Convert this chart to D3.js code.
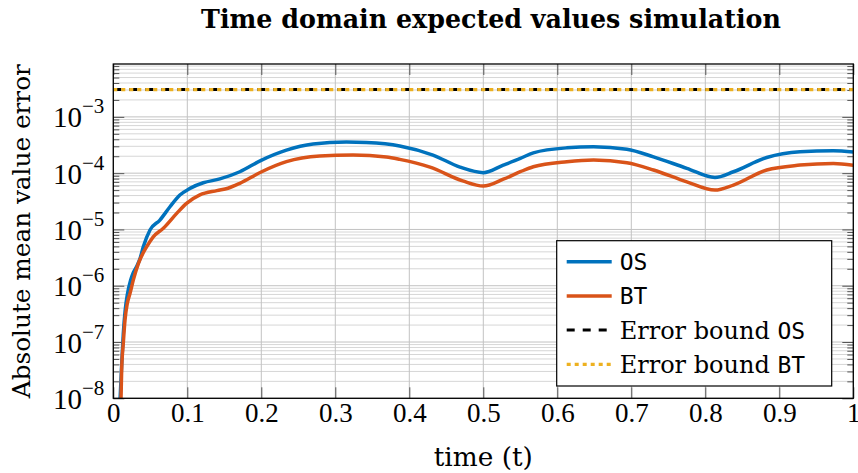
<!DOCTYPE html>
<html>
<head>
<meta charset="utf-8">
<script src="https://cdn.jsdelivr.net/npm/d3@7"></script>
<style>
  body { margin: 0; background: #fff; }
  svg { display: block; }
</style>
</head>
<body>
<div id="chart"></div>
<script>
const xTicks = [0, 0.1, 0.2, 0.3, 0.4, 0.5, 0.6, 0.7, 0.8, 0.9, 1]
const yDecades = [-8, -7, -6, -5, -4, -3]
const yDomain = [1e-8, 8.7e-3]

const osT = [0.008, 0.0095, 0.0115, 0.0135, 0.016, 0.019, 0.0235, 0.027, 0.0316, 0.036, 0.0405, 0.0496, 0.063, 0.0766, 0.09, 0.1036, 0.1216, 0.144, 0.171, 0.2005, 0.234, 0.27, 0.315, 0.342, 0.387, 0.432, 0.4685, 0.5, 0.527, 0.55, 0.5676, 0.613, 0.649, 0.694, 0.73, 0.775, 0.813, 0.838, 0.883, 0.928, 0.973, 1.0]
const osErr = [5e-9, 1.2e-8, 4.5e-8, 1.4e-7, 3.6e-7, 7e-7, 1.26e-6, 1.7e-6, 2.2e-6, 3.0e-6, 4.9e-6, 9.8e-6, 1.47e-5, 2.53e-5, 4.08e-5, 5.37e-5, 6.75e-5, 7.9e-5, 1.06e-4, 1.71e-4, 2.57e-4, 3.29e-4, 3.57e-4, 3.5e-4, 3.05e-4, 2.1e-4, 1.28e-4, 1.02e-4, 1.39e-4, 1.83e-4, 2.3e-4, 2.82e-4, 2.94e-4, 2.65e-4, 1.95e-4, 1.22e-4, 8.4e-5, 1.06e-4, 1.9e-4, 2.4e-4, 2.5e-4, 2.37e-4]

const btT = [0.0095, 0.0105, 0.0113, 0.0135, 0.0158, 0.019, 0.0226, 0.027, 0.034, 0.045, 0.054, 0.0676, 0.0857, 0.099, 0.117, 0.14, 0.155, 0.171, 0.2005, 0.234, 0.279, 0.324, 0.369, 0.387, 0.428, 0.472, 0.5, 0.527, 0.55, 0.5676, 0.613, 0.649, 0.694, 0.73, 0.775, 0.813, 0.838, 0.883, 0.928, 0.973, 1.0]
const btErr = [5e-9, 1.1e-8, 3.2e-8, 9.5e-8, 2.46e-7, 4.9e-7, 7.3e-7, 1.26e-6, 2.5e-6, 4.9e-6, 7.4e-6, 1.05e-5, 1.93e-5, 2.9e-5, 4.1e-5, 4.9e-5, 5.4e-5, 6.6e-5, 1.06e-4, 1.6e-4, 2.01e-4, 2.1e-4, 1.94e-4, 1.76e-4, 1.28e-4, 7.3e-5, 5.9e-5, 7.8e-5, 1.06e-4, 1.3e-4, 1.6e-4, 1.71e-4, 1.53e-4, 1.14e-4, 7.0e-5, 5.0e-5, 6.15e-5, 1.14e-4, 1.39e-4, 1.49e-4, 1.38e-4]

const boundT = [0, 1]
const boundOS = [3.05e-3, 3.05e-3]
const boundBT = [3.05e-3, 3.05e-3]

const series = [
  { name: 'OS', pre: '', t: osT, v: osErr, color: '#0072BD', dash: null, width: 3.5 },
  { name: 'BT', pre: '', t: btT, v: btErr, color: '#D95319', dash: null, width: 3.5 },
  { name: 'OS', pre: 'Error bound ', t: boundT, v: boundOS, color: '#000', dash: '8,8', width: 3 },
  { name: 'BT', pre: 'Error bound ', t: boundT, v: boundBT, color: '#EDB120', dash: '4,4', width: 3.2 }
]

const W = 858, H = 473
const margin = { top: 64, right: 4.7, bottom: 74.7, left: 113.3 }
const roman = '"Liberation Serif", serif'
const wide = '"DejaVu Serif", serif'
const mono = '"DejaVu Sans Mono", monospace'

const svg = d3.select('#chart').append('svg')
  .attr('width', W)
  .attr('height', H)

const x = d3.scaleLinear().domain([0, 1]).range([margin.left, W - margin.right])
const y = d3.scaleLog().domain(yDomain).range([H - margin.bottom, margin.top])

const x0 = x.range()[0], x1 = x.range()[1]
const y0 = y.range()[0], y1 = y.range()[1]

svg.append('defs').append('clipPath').attr('id', 'plot')
  .append('rect')
  .attr('x', x0).attr('y', y1)
  .attr('width', x1 - x0).attr('height', y0 - y1)

const majorY = yDecades.map(e => Math.pow(10, e))
const minorY = y.ticks().filter(v => {
  const m = Math.round(v / Math.pow(10, Math.floor(Math.log10(v) + 1e-9)))
  return m !== 1
})

// grid
const grid = svg.append('g')
grid.selectAll('.minor')
  .data(minorY)
  .enter().append('line')
  .attr('x1', x0).attr('x2', x1)
  .attr('y1', d => y(d)).attr('y2', d => y(d))
  .attr('stroke', '#d6d6d6')
  .attr('stroke-width', 1)
grid.selectAll('.majorY')
  .data(majorY)
  .enter().append('line')
  .attr('x1', x0).attr('x2', x1)
  .attr('y1', d => y(d)).attr('y2', d => y(d))
  .attr('stroke', '#c2c2c2')
  .attr('stroke-width', 1)
grid.selectAll('.majorX')
  .data(xTicks)
  .enter().append('line')
  .attr('x1', d => x(d)).attr('x2', d => x(d))
  .attr('y1', y0).attr('y2', y1)
  .attr('stroke', '#c2c2c2')
  .attr('stroke-width', 1)

// ticks on all four sides, pointing inwards
const tickCol = '#555'
const ticks = svg.append('g')
ticks.append('g')
  .attr('transform', `translate(${x0},0)`)
  .call(d3.axisRight(y).tickValues(majorY).tickSize(11).tickFormat(''))
ticks.append('g')
  .attr('transform', `translate(${x0},0)`)
  .call(d3.axisRight(y).tickValues(minorY).tickSize(6).tickFormat(''))
ticks.append('g')
  .attr('transform', `translate(${x1},0)`)
  .call(d3.axisLeft(y).tickValues(majorY).tickSize(11).tickFormat(''))
ticks.append('g')
  .attr('transform', `translate(${x1},0)`)
  .call(d3.axisLeft(y).tickValues(minorY).tickSize(6).tickFormat(''))
ticks.append('g')
  .attr('transform', `translate(0,${y0})`)
  .call(d3.axisTop(x).tickValues(xTicks).tickSize(11).tickFormat(''))
ticks.append('g')
  .attr('transform', `translate(0,${y1})`)
  .call(d3.axisBottom(x).tickValues(xTicks).tickSize(11).tickFormat(''))
ticks.selectAll('.domain').remove()
ticks.selectAll('.tick line').attr('stroke', tickCol).attr('stroke-width', 1)

// x tick labels
const xAxis = svg.append('g')
  .attr('transform', `translate(0,${y0})`)
  .call(d3.axisBottom(x).tickValues(xTicks).tickSize(0).tickPadding(0).tickFormat(d3.format('~g')))
xAxis.select('.domain').remove()
xAxis.attr('font-family', null).attr('font-size', null)
xAxis.selectAll('text')
  .attr('y', 24)
  .attr('dy', 0)
  .attr('font-family', roman)
  .attr('font-size', 27)
  .attr('fill', '#000')

// y tick labels as 10^k
const yAxis = svg.append('g')
  .attr('transform', `translate(${x0},0)`)
  .call(d3.axisLeft(y).tickValues(majorY).tickSize(0).tickFormat(''))
yAxis.select('.domain').remove()
yAxis.attr('font-family', null).attr('font-size', null)
yAxis.selectAll('.tick').each(function (d) {
  const t = d3.select(this).select('text')
    .attr('x', -9)
    .attr('dy', 0)
    .attr('text-anchor', 'end')
    .attr('fill', '#000')
    .attr('font-family', roman)
  t.append('tspan')
    .attr('dy', 10)
    .attr('font-size', 29)
    .text('10')
  t.append('tspan')
    .attr('dy', -14)
    .attr('font-size', 21)
    .text('\u2212' + Math.round(-Math.log10(d)))
})

// curves
const line = d3.line()
  .x(d => x(d[0]))
  .y(d => y(d[1]))
  .curve(d3.curveMonotoneX)

svg.append('g')
  .attr('clip-path', 'url(#plot)')
  .selectAll('path')
  .data(series)
  .enter().append('path')
  .attr('d', s => line(s.t.map((t, i) => [t, s.v[i]])))
  .attr('fill', 'none')
  .attr('stroke', s => s.color)
  .attr('stroke-width', s => s.width)
  .attr('stroke-dasharray', s => s.dash)
  .attr('stroke-linejoin', 'round')

// frame
svg.append('rect')
  .attr('x', x0).attr('y', y1)
  .attr('width', x1 - x0).attr('height', y0 - y1)
  .attr('fill', 'none')
  .attr('stroke', '#000')
  .attr('stroke-width', 1.3)

// scale the font so the text takes the width it has in the reference
const fitSize = (sel, w) => {
  const size = +sel.attr('font-size')
  const len = sel.node().getComputedTextLength()
  sel.attr('font-size', (size * w / len).toFixed(2))
}

// title and axis labels
const title = svg.append('text')
  .attr('x', 491).attr('y', 28)
  .attr('text-anchor', 'middle')
  .attr('font-family', wide)
  .attr('font-weight', 'bold')
  .attr('font-size', 23)
  .text('Time domain expected values simulation')
fitSize(title, 580)

const xLabel = svg.append('text')
  .attr('x', (x0 + x1) / 2).attr('y', 466)
  .attr('text-anchor', 'middle')
  .attr('font-family', wide)
  .attr('font-size', 25)
  .text('time (t)')
fitSize(xLabel, 99)

const yLabel = svg.append('text')
  .attr('transform', `translate(30,${(y0 + y1) / 2}) rotate(-90)`)
  .attr('text-anchor', 'middle')
  .attr('font-family', wide)
  .attr('font-size', 25)
  .text('Absolute mean value error')
fitSize(yLabel, 334)

// legend
const legend = svg.append('g').attr('transform', 'translate(556.7,240.7)')
legend.append('rect')
  .attr('width', 275).attr('height', 145.3)
  .attr('fill', '#fff')
  .attr('stroke', '#000')
  .attr('stroke-width', 1.2)

const rows = legend.selectAll('.row')
  .data(series)
  .enter().append('g')
  .attr('transform', (s, i) => `translate(0,${21 + i * 34.2})`)
rows.append('line')
  .attr('x1', 10).attr('x2', 55)
  .attr('stroke', s => s.color)
  .attr('stroke-width', s => s.width)
  .attr('stroke-dasharray', s => s.dash)
const labels = rows.append('text')
  .attr('x', 63).attr('y', 8.5)
  .attr('font-size', 24)
labels.append('tspan')
  .attr('font-family', wide)
  .text(s => s.pre)
labels.append('tspan')
  .attr('font-family', mono)
  .attr('font-size', 23)
  .text(s => s.name)
</script>
</body>
</html>
